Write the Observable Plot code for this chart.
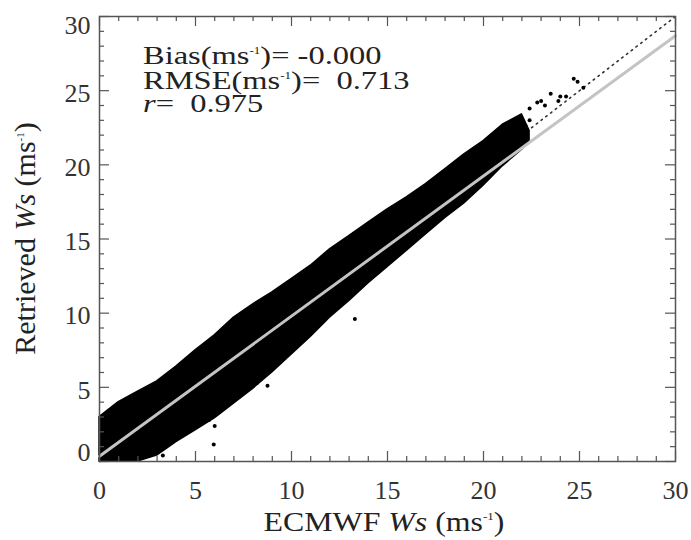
<!DOCTYPE html>
<html><head><meta charset="utf-8">
<script src="https://cdn.jsdelivr.net/npm/d3@7"></script>
<script src="https://cdn.jsdelivr.net/npm/@observablehq/plot@0.6"></script>
<style>body{margin:0;background:#fff} svg{display:block}</style>
</head><body><div id="chart"></div>
<script>
// Envelope of the dense scatter cloud
const envX     = [0, 1, 2, 3, 4, 5, 6, 7, 8, 9, 10, 11, 12, 13, 14, 15, 16, 17, 18, 19, 20, 21, 22, 22.4];
const envUpper = [3.0, 4.0, 4.7, 5.4, 6.4, 7.5, 8.5, 9.7, 10.6, 11.4, 12.3, 13.2, 14.3, 15.2, 16.1, 17.0, 17.8, 18.7, 19.7, 20.7, 21.6, 22.7, 23.4, 22.3];
const envLower = [0, 0, 0, 0.4, 1.3, 2.1, 2.9, 3.9, 4.9, 6.0, 7.2, 8.4, 9.7, 10.8, 12.0, 13.1, 14.2, 15.3, 16.4, 17.4, 18.6, 19.9, 21.0, 21.6];
// Isolated points
const outX = [3.3, 4.75, 5.7, 6.0, 5.95, 8.2, 8.75, 10.05, 13.3, 21.5, 21.9, 22.2, 22.4, 22.4, 22.8, 23.0, 23.2, 23.5, 23.9, 24.0, 24.3, 24.7, 24.9, 25.2];
const outY = [0.4, 2.15, 2.8, 2.4, 1.15, 5.3, 5.1, 7.5, 9.6, 20.7, 21.3, 22.6, 23.0, 23.8, 24.2, 24.3, 24.0, 24.8, 24.3, 24.6, 24.6, 25.8, 25.6, 25.2];
// Regression line and 1:1 line
const fitX = [0, 30], fitY = [0.35, 28.7];
const oneX = [0, 30], oneY = [0, 30];
// Ticks
const majorTicks = [0, 5, 10, 15, 20, 25, 30];
const minorTicks = [1,2,3,4,6,7,8,9,11,12,13,14,16,17,18,19,21,22,23,24,26,27,28,29];
// Texts
const statNames = ["Bias", "RMSE", "r"];
const statValues = ["-0.000", "0.713", "0.975"];
const xTitle = ["ECMWF ", "Ws", " (ms", "-1", ")"];
const yTitle = ["Retrieved ", "Ws", " (ms", "-1", ")"];

const env = envX.map((x, i) => ({x, lo: envLower[i], hi: envUpper[i]}));
const outs = outX.map((x, i) => ({x, y: outY[i]}));
const fit = fitX.map((x, i) => ({x, y: fitY[i]}));
const one = oneX.map((x, i) => ({x, y: oneY[i]}));
const FONT = "Liberation Serif, Times New Roman, serif";
const tickColor = "#555";

const chart = Plot.plot({
  width: 691, height: 540,
  marginLeft: 99, marginRight: 16, marginTop: 16, marginBottom: 79,
  style: {fontFamily: FONT, background: "#fff"},
  x: {domain: [0, 30], axis: null},
  y: {domain: [0, 30], axis: null},
  marks: [
    Plot.line(one, {x: "x", y: "y", stroke: "#333", strokeWidth: 1.6, strokeDasharray: "1.5,4.5", strokeLinecap: "round"}),
    Plot.areaY(env, {x: "x", y1: "lo", y2: "hi", fill: "#000", stroke: "#000", strokeWidth: 1.5}),
    Plot.dot(outs, {x: "x", y: "y", r: 2, fill: "#000"}),
    Plot.line(fit, {x: "x", y: "y", stroke: "#c4c4c4", strokeWidth: 3}),
    // inward ticks on all sides
    Plot.tickX(majorTicks, {x: d => d, insetTop: 435, stroke: tickColor, strokeWidth: 1.2}),
    Plot.tickX(majorTicks, {x: d => d, insetBottom: 435, stroke: tickColor, strokeWidth: 1.2}),
    Plot.tickX(minorTicks, {x: d => d, insetTop: 440, stroke: tickColor, strokeWidth: 1.2}),
    Plot.tickX(minorTicks, {x: d => d, insetBottom: 440, stroke: tickColor, strokeWidth: 1.2}),
    Plot.tickY(majorTicks, {y: d => d, insetRight: 566, stroke: tickColor, strokeWidth: 1.2}),
    Plot.tickY(majorTicks, {y: d => d, insetLeft: 566, stroke: tickColor, strokeWidth: 1.2}),
    Plot.tickY(minorTicks, {y: d => d, insetRight: 571, stroke: tickColor, strokeWidth: 1.2}),
    Plot.tickY(minorTicks, {y: d => d, insetLeft: 571, stroke: tickColor, strokeWidth: 1.2}),
    Plot.frame({stroke: "#555", strokeWidth: 1.5}),
    // tick labels
    Plot.text(majorTicks, {x: d => d, frameAnchor: "bottom", dy: 29, text: d => String(d), fontSize: 26, fill: "#333", lineAnchor: "middle", ariaLabel: "xticklabel"}),
    Plot.text(majorTicks.filter(d => d > 0 && d < 30), {y: d => d, frameAnchor: "left", dx: -9, dy: 3, textAnchor: "end", text: d => String(d), fontSize: 26, fill: "#333", lineAnchor: "middle", ariaLabel: "yticklabel"}),
    Plot.text(majorTicks.filter(d => d === 0), {y: d => d, frameAnchor: "left", dx: -9, dy: -9, textAnchor: "end", text: d => String(d), fontSize: 26, fill: "#333", lineAnchor: "middle", ariaLabel: "yticklabel"}),
    Plot.text(majorTicks.filter(d => d === 30), {y: d => d, frameAnchor: "left", dx: -9, dy: 9, textAnchor: "end", text: d => String(d), fontSize: 26, fill: "#333", lineAnchor: "middle", ariaLabel: "yticklabel"})
  ]
});
document.getElementById("chart").appendChild(chart);

const svg = d3.select(chart);
function stretch(nodes, sx) {
  nodes.each(function() {
    const b = this.getBBox();
    const anchor = getComputedStyle(this).textAnchor;
    const cx = anchor === "end" ? b.x + b.width : anchor === "middle" ? b.x + b.width / 2 : b.x;
    const t = this.getAttribute("transform") || "";
    this.setAttribute("transform", `${t} translate(${cx},0) scale(${sx},1) translate(${-cx},0)`);
  });
}
stretch(svg.selectAll('g[aria-label="xticklabel"] text'), 1.2);
stretch(svg.selectAll('g[aria-label="yticklabel"] text'), 1.2);

const xs = chart.scale("x"), ys = chart.scale("y");

// statistics annotation
const stats = svg.append("g").attr("font-family", FONT).attr("fill", "#222").attr("font-size", 25)
  .attr("text-anchor", "start").style("white-space", "pre");
const baselines = [64, 89, 112];
statNames.forEach((name, i) => {
  const t = stats.append("text").attr("text-anchor", "start")
    .attr("transform", `translate(143,${baselines[i]}) scale(1.3,1.04)`).attr("xml:space", "preserve");
  if (name === "r") {
    t.append("tspan").attr("font-style", "italic").text("r");
    t.append("tspan").text("=  " + statValues[i]);
  } else {
    t.append("tspan").text(name + "(ms");
    t.append("tspan").attr("font-size", 10).attr("dy", -10).text("-1");
    t.append("tspan").attr("dy", 10).text(")= " + (statValues[i].startsWith("-") ? "" : " ") + statValues[i]);
  }
});

function titled(g, parts) {
  g.append("tspan").text(parts[0]);
  g.append("tspan").attr("font-style", "italic").text(parts[1]);
  g.append("tspan").text(parts[2]);
  g.append("tspan").attr("font-size", 11).attr("dy", -11).text(parts[3]);
  g.append("tspan").attr("dy", 11).text(parts[4]);
}
const xt = svg.append("text").attr("font-family", FONT).attr("font-size", 27).attr("fill", "#222")
  .attr("text-anchor", "middle").attr("xml:space", "preserve").style("white-space", "pre")
  .attr("transform", `translate(${(xs.apply(0) + xs.apply(30)) / 2 - 3},531) scale(1.18,1)`);
titled(xt, xTitle);
const yt = svg.append("text").attr("font-family", FONT).attr("font-size", 30).attr("fill", "#222")
  .attr("text-anchor", "middle").attr("xml:space", "preserve").style("white-space", "pre")
  .attr("transform", `translate(35,${(ys.apply(0) + ys.apply(30)) / 2}) rotate(-90) scale(1.0,1)`);
titled(yt, yTitle);
</script>
</body></html>
